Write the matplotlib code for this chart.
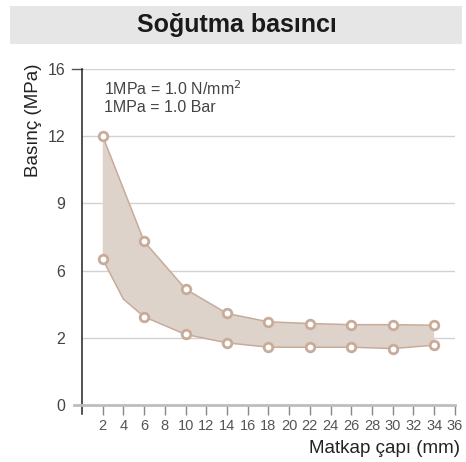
import matplotlib.pyplot as plt
import matplotlib.patches as mpatches
import numpy as np

# Drill diameter (mm) and cooling pressure (MPa)
upper_x = [2, 6, 10, 14, 18, 22, 26, 30, 34]
upper_y = [12.0, 7.3, 4.9, 3.45, 2.95, 2.85, 2.78, 2.78, 2.75]
lower_x = [2, 4, 6, 10, 14, 18, 22, 26, 30, 34]
lower_y = [6.5, 4.3, 3.25, 2.2, 1.85, 1.72, 1.72, 1.72, 1.68, 1.78]
lower_marked = [0, 2, 3, 4, 5, 6, 7, 8, 9]  # no marker at the 4 mm bend

y_ticks = [0, 2, 6, 9, 12, 16]
x_ticks = list(range(2, 37, 2))

line_col = '#c8ab99'
band_col = '#ddd3ca'

fig = plt.figure(figsize=(4.66, 4.62), dpi=100)

# Title bar
fig.patches.append(mpatches.Rectangle((0.0215, 0.905), 0.970, 0.082, transform=fig.transFigure,
                                      facecolor='#e6e6e6', edgecolor='none', zorder=0))
fig.text(0.508, 0.946, 'Soğutma basıncı', ha='center', va='center', fontsize=18,
         fontweight='bold', family='Liberation Sans', color='#1a1a1a')

ax = fig.add_axes([0.176, 0.1234, 0.800, 0.7272])

# the y axis is evenly spaced between its uneven tick values
pos = np.arange(len(y_ticks))
ax.set_yscale('function', functions=(lambda v: np.interp(v, y_ticks, pos),
                                     lambda p: np.interp(p, pos, y_ticks)))
ax.set_ylim(0, 16)
ax.set_xlim(0, 36)

ax.fill(np.r_[upper_x, lower_x[::-1]], np.r_[upper_y, lower_y[::-1]],
        color=band_col, lw=0, zorder=2)
mk = dict(color=line_col, lw=1.1, marker='o', ms=6.2, mew=2.0, mfc='white', mec=line_col, zorder=4)
ax.plot(upper_x, upper_y, **mk)
ax.plot(lower_x, lower_y, markevery=lower_marked, **mk)

for v in y_ticks[1:]:
    ax.axhline(v, color='#d2d2d2', lw=1, zorder=1)
ax.axhline(16, xmin=-0.027, xmax=0, color='#555555', lw=1, clip_on=False)
ax.axhline(0, xmin=-0.022, xmax=1, color='#bdbdbd', lw=2, clip_on=False, zorder=3)
ax.plot([0, 0], [-0.027, 1], transform=ax.transAxes, color='#222222', lw=1.1, clip_on=False)

for s in ax.spines.values():
    s.set_visible(False)

ax.set_yticks(y_ticks)
ax.set_xticks(x_ticks)
ax.tick_params(axis='y', length=0, pad=12, labelsize=11.5, labelcolor='#444444')
ax.tick_params(axis='x', length=7, width=1, color='#888888', pad=3, labelsize=10.5,
               labelcolor='#555555')
for t in ax.get_yticklabels():
    t.set_family('Liberation Sans')
for t in ax.get_xticklabels():
    t.set_family(['Liberation Sans Narrow', 'Liberation Sans'])

ax.text(0.058, 0.968, '1MPa = 1.0 N/mm$^2$\n1MPa = 1.0 Bar', transform=ax.transAxes,
        ha='left', va='top', fontsize=11.5, family='Liberation Sans', color='#444444',
        linespacing=1.1)

fig.text(0.071, 0.74, 'Basınç (MPa)', rotation=90, ha='center', va='center', fontsize=13.5,
         family='Liberation Sans', color='#222222')
fig.text(0.988, 0.029, 'Matkap çapı (mm)', ha='right', va='center', fontsize=13.5,
         family='Liberation Sans', color='#222222')

fig.savefig('out.png', dpi=100)
